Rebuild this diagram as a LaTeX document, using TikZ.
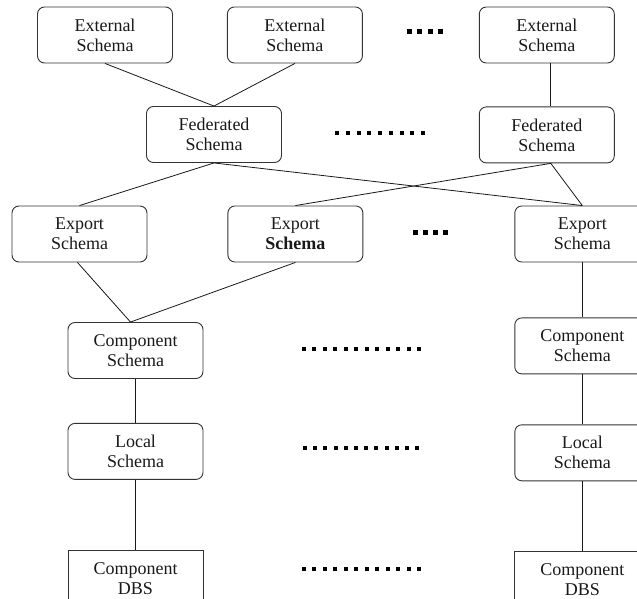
\documentclass[tikz,border=0pt]{standalone}
\usepackage{fontspec}
\setmainfont{Liberation Serif}
\usetikzlibrary{positioning}

\begin{document}
\begin{tikzpicture}[x=1pt, y=-1pt, node distance=40pt]
  \tikzstyle{box}=[draw=black!80, line width=0.9pt, rounded corners=7pt, minimum width=135pt, minimum height=56pt, inner sep=0pt, align=center, font=\fontsize{18}{20}\selectfont, text=black!90]
  \tikzstyle{dbsbox}=[box, sharp corners]
  \tikzstyle{link}=[line width=0.8pt, black!90]
  \useasboundingbox (0,0) rectangle (637,599);

  \node[box] (ext1) at (105,35) {External\\Schema};
  \node[box, right=54pt of ext1] (ext2) {External\\Schema};
  \node[box, right=116pt of ext2] (ext3) {External\\Schema};
  \node[box] (fed1) at (214,134.5) {Federated\\Schema};
  \node[box, below=43pt of ext3] (fed2) {Federated\\Schema};
  \node[box] (exp1) at (79.5,234) {Export\\Schema};
  \node[box, right=80pt of exp1] (exp2) {Export\\\textbf{Schema}};
  \node[box, right=151pt of exp2] (exp3) {Export\\Schema};
  \node[box] (comp1) at (135.5,350.5) {Component\\Schema};
  \node[box, below=44pt of comp1] (loc1) {Local\\Schema};
  \node[dbsbox, below=70pt of loc1] (dbs1) {Component\\DBS};
  \node[box, below=55pt of exp3] (comp2) {Component\\Schema};
  \node[box, below=50pt of comp2] (loc2) {Local\\Schema};
  \node[dbsbox, below=70pt of loc2] (dbs2) {Component\\DBS};

  \draw[link] (ext1.south) -- (fed1.north);
  \draw[link] (ext2.south) -- (fed1.north);
  \draw[link] ([xshift=4pt]ext3.south) -- ([xshift=4pt]fed2.north);
  \draw[link] (fed1.south) -- (exp1.north);
  \draw[link] (fed1.south) -- (exp3.north);
  \draw[link] ([xshift=4pt]fed2.south) -- (exp2.north);
  \draw[link] ([xshift=4pt]fed2.south) -- (exp3.north);
  \draw[link] ([xshift=-2pt]exp1.south) -- ([xshift=-5pt]comp1.north);
  \draw[link] (exp2.south) -- ([xshift=-5pt]comp1.north);
  \draw[link] (exp3.south) -- (comp2.north);
  \draw[link] (comp1) -- (loc1);
  \draw[link] (loc1) -- (dbs1);
  \draw[link] (comp2) -- (loc2);
  \draw[link] (loc2) -- (dbs2);

  % dotted gaps between the columns
  \foreach \i in {0,...,3} \fill (407+\i*10.3,29.5) rectangle ++(5,5);
  \foreach \i in {0,...,8} \fill (335+\i*10.75,131) rectangle ++(4,4);
  \foreach \i in {0,...,3} \fill (413+\i*10,229.5) rectangle ++(5,5);
  \foreach \i in {0,...,11} \fill (302+\i*10.45,347) rectangle ++(4,4);
  \foreach \i in {0,...,11} \fill (303+\i*10.2,446) rectangle ++(4,4);
  \foreach \i in {0,...,11} \fill (302+\i*10.45,567) rectangle ++(4,4);
\end{tikzpicture}
\end{document}
